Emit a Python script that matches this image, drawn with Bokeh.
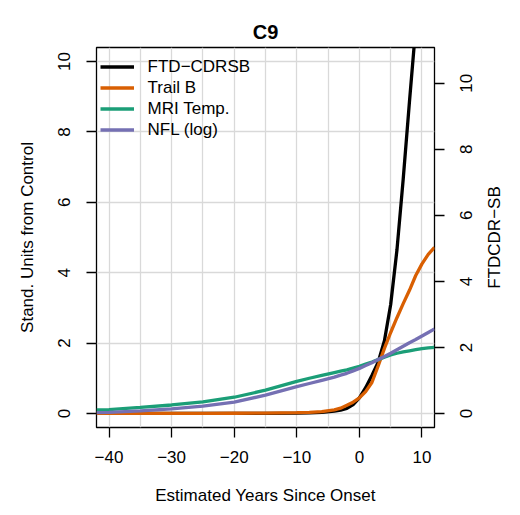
import math

from bokeh.plotting import figure
from bokeh.models import Range1d, LinearAxis, FixedTicker, Legend, LegendItem, Title
from bokeh.embed import file_html
from bokeh.resources import INLINE

# Estimated years since onset at which each curve is sampled
years = [-42, -40, -35, -30, -25, -20, -15, -10, -8, -6, -4, -3, -2, -1,
         0, 1, 2, 3, 4, 5, 6, 7, 8, 9, 10, 11, 12]

# FTD-CDRSB (right axis units)
ftd_cdrsb = [0.0, 0.0, 0.0, 0.0, 0.0, 0.0, 0.0, 0.01, 0.02, 0.03, 0.07, 0.10, 0.15, 0.27,
             0.47, 0.78, 1.15, 1.55, 2.20, 3.30, 4.95, 7.10, 9.45, 11.7, 14.1, 16.5, 18.9]
# Standardised units from control (left axis)
trail_b = [0.0, 0.0, 0.0, 0.0, 0.0, 0.005, 0.01, 0.02, 0.03, 0.05, 0.10, 0.15, 0.23, 0.32,
           0.44, 0.62, 0.88, 1.35, 1.85, 2.30, 2.72, 3.12, 3.50, 3.92, 4.25, 4.52, 4.72]
mri_temp = [0.10, 0.11, 0.17, 0.24, 0.33, 0.46, 0.66, 0.91, 1.00, 1.08, 1.16, 1.20, 1.24, 1.29,
            1.34, 1.40, 1.46, 1.53, 1.60, 1.66, 1.71, 1.75, 1.78, 1.81, 1.84, 1.86, 1.88]
nfl_log = [0.02, 0.03, 0.07, 0.13, 0.21, 0.32, 0.52, 0.76, 0.85, 0.94, 1.03, 1.09, 1.14, 1.21,
           1.28, 1.36, 1.44, 1.53, 1.62, 1.71, 1.81, 1.91, 2.01, 2.10, 2.20, 2.30, 2.40]

x_ticks = [-40, -30, -20, -10, 0, 10]
x_tick_labels = ["\u221240", "\u221230", "\u221220", "\u221210", "0", "10"]
y_ticks = [0, 2, 4, 6, 8, 10]
y_tick_labels = ["0", "2", "4", "6", "8", "10"]
x_grid = [-40, -35, -30, -25, -20, -15, -10, -5, 0, 5, 10]
right_title = "FTDCDR\u2212SB"

FONT = "Liberation Sans"
FONT_PX = 17
FS = f"{FONT_PX}px"
FRAME_W, FRAME_H = 338, 380
CDR_LO, CDR_HI = -0.4264, 11.087

p = figure(frame_width=FRAME_W, frame_height=FRAME_H,
           min_border_left=96, min_border_right=86, min_border_top=47, min_border_bottom=88,
           x_range=Range1d(-42, 12), y_range=Range1d(-0.4, 10.4),
           output_backend="svg", toolbar_location=None)
p.extra_y_ranges = {"cdr": Range1d(CDR_LO, CDR_HI)}
p.title = None

p.outline_line_color = "black"
p.outline_line_width = 1.3
p.background_fill_color = "white"
p.border_fill_color = "white"

for g, t in ((p.xgrid, x_grid), (p.ygrid, y_ticks)):
    g.ticker = FixedTicker(ticks=t)
    g.grid_line_color = "#D9D9D9"
    g.grid_line_width = 1.3


def style_axis(ax, label=None):
    ax.axis_label = label
    ax.axis_label_text_font = FONT
    ax.axis_label_text_font_size = FS
    ax.axis_label_text_font_style = "normal"
    ax.axis_label_text_color = "black"
    ax.major_label_text_font = FONT
    ax.major_label_text_font_size = FS
    ax.major_label_text_color = "black"
    ax.axis_line_color = None
    ax.major_tick_line_color = "black"
    ax.major_tick_line_width = 1.3
    ax.major_tick_out = 10
    ax.major_tick_in = 0
    ax.minor_tick_line_color = None


# Bottom axis: years since onset
xa = p.below[0]
xa.ticker = FixedTicker(ticks=x_ticks)
xa.major_label_overrides = dict(zip(x_ticks, x_tick_labels))
style_axis(xa, "Estimated Years Since Onset")
xa.major_label_standoff = 13
xa.axis_label_standoff = 20

# Left axis: standardised units
ya = p.left[0]
ya.ticker = FixedTicker(ticks=y_ticks)
style_axis(ya, "Stand. Units from Control")
ya.major_label_orientation = "vertical"
ya.major_label_standoff = 16
ya.axis_label_standoff = 19

# Empty band between the plot frame and the title, then the title itself
gap = LinearAxis(ticker=FixedTicker(ticks=[]))
style_axis(gap)
gap.major_tick_line_color = None
gap.major_label_text_color = None
gap.major_tick_out = 12
gap.major_label_standoff = 0
p.add_layout(gap, "above")

p.add_layout(Title(text="C9", align="center", standoff=10, text_font=FONT,
                   text_font_style="bold", text_font_size="20px",
                   text_color="black"), "above")

# Right-hand FTDCDR-SB scale: tick marks, then labels reading bottom-to-top,
# then the scale title.  Rotated labels start at their anchor, so each anchor is
# moved down by half the label's length to centre it on its tick.
px_per_unit = FRAME_H / (CDR_HI - CDR_LO)
DIGIT_EM = 0.556


def half_len_units(em_width):
    return em_width * FONT_PX / 2 / px_per_unit


r_ticks = LinearAxis(y_range_name="cdr", ticker=FixedTicker(ticks=y_ticks))
style_axis(r_ticks)
r_ticks.major_label_text_color = None
r_ticks.major_label_text_font_size = "1px"
r_ticks.major_label_standoff = 0
p.add_layout(r_ticks, "right")

label_pos = [t - half_len_units(DIGIT_EM * len(s)) for t, s in zip(y_ticks, y_tick_labels)]
r_labels = LinearAxis(y_range_name="cdr", ticker=FixedTicker(ticks=label_pos))
style_axis(r_labels)
r_labels.major_label_overrides = dict(zip(label_pos, y_tick_labels))
r_labels.major_tick_line_color = None
r_labels.major_tick_out = 0
r_labels.major_label_orientation = math.pi / 2
r_labels.major_label_standoff = 22
p.add_layout(r_labels, "right")

title_pos = (CDR_LO + CDR_HI) / 2 - half_len_units(6.028)
r_title = LinearAxis(y_range_name="cdr", ticker=FixedTicker(ticks=[title_pos]))
style_axis(r_title)
r_title.major_label_overrides = {title_pos: right_title}
r_title.major_tick_line_color = None
r_title.major_tick_out = 0
r_title.major_label_orientation = math.pi / 2
r_title.major_label_standoff = 13
p.add_layout(r_title, "right")

LW = 3.3
r_ftd = p.line(years, ftd_cdrsb, y_range_name="cdr", line_color="black", line_width=LW)
r_trail = p.line(years, trail_b, line_color="#D95F02", line_width=LW)
r_mri = p.line(years, mri_temp, line_color="#1B9E77", line_width=LW)
r_nfl = p.line(years, nfl_log, line_color="#7570B3", line_width=LW)

legend = Legend(items=[
    LegendItem(label="FTD\u2212CDRSB", renderers=[r_ftd]),
    LegendItem(label="Trail B", renderers=[r_trail]),
    LegendItem(label="MRI Temp.", renderers=[r_mri]),
    LegendItem(label="NFL (log)", renderers=[r_nfl]),
], location=(3.6, 287))
legend.glyph_width = 34
legend.glyph_height = 21
legend.label_height = 21
legend.spacing = 0
legend.padding = 0
legend.margin = 0
legend.label_standoff = 14
legend.label_text_font = FONT
legend.label_text_font_size = FS
legend.label_text_color = "black"
legend.border_line_color = None
legend.background_fill_alpha = 0
p.add_layout(legend)

open("out.html", "w").write(file_html(p, INLINE))
